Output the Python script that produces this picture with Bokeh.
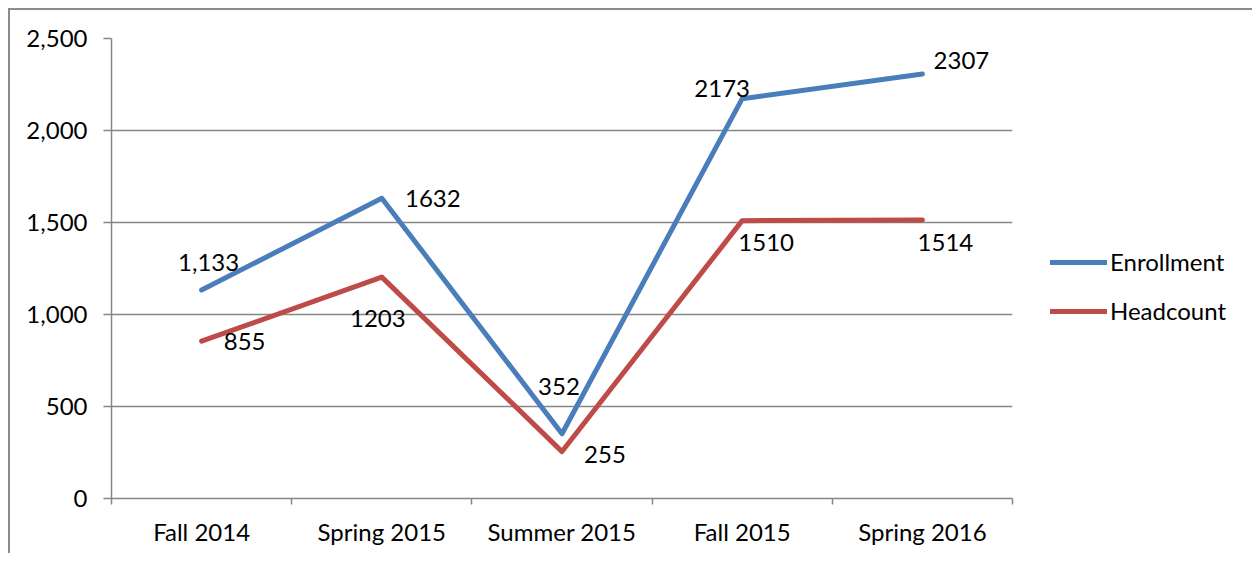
from bokeh.plotting import figure
from bokeh.models import FixedTicker, NumeralTickFormatter, Range1d, Legend, LegendItem, ColumnDataSource
from bokeh.core.properties import value
from bokeh.embed import file_html
from bokeh.resources import INLINE

categories = ["Fall 2014", "Spring 2015", "Summer 2015", "Fall 2015", "Spring 2016"]
enrollment = [1133, 1632, 352, 2173, 2307]
headcount = [855, 1203, 255, 1510, 1514]
enrollment_labels = ["1,133", "1632", "352", "2173", "2307"]
headcount_labels = ["855", "1203", "255", "1510", "1514"]
y_ticks = [0, 500, 1000, 1500, 2000, 2500]

FONT = "Lato"
FS = "24px"
BLUE = "#4A7EBB"
RED = "#BE4B48"
GRID = "#868686"

xs = [i + 0.5 for i in range(len(categories))]

p = figure(frame_width=901, frame_height=460, output_backend="svg", toolbar_location=None,
           x_range=Range1d(0, len(categories)), y_range=Range1d(0, 2500),
           min_border_left=101, min_border_right=0, min_border_top=28, min_border_bottom=55)
p.styles = {"border-left": "2px solid #8c8c8c", "border-top": "2px solid #8c8c8c",
            "margin-left": "8px", "margin-top": "8px"}
p.outline_line_color = None
p.background_fill_color = "white"
p.border_fill_color = "white"

# x axis
p.xaxis.ticker = FixedTicker(ticks=xs, minor_ticks=list(range(len(categories) + 1)))
p.xaxis.major_label_overrides = {x: c for x, c in zip(xs, categories)}
p.xaxis.major_tick_line_color = None
p.xaxis.minor_tick_line_color = GRID
p.xaxis.minor_tick_out = 6
p.xaxis.minor_tick_in = 0
p.xaxis.minor_tick_line_width = 1.5
p.xaxis.axis_line_color = GRID
p.xaxis.axis_line_width = 1.5
p.xaxis.major_label_text_font = FONT
p.xaxis.major_label_text_font_size = FS
p.xaxis.major_label_text_color = "black"
p.xaxis.major_label_standoff = 12

# y axis
p.yaxis.ticker = FixedTicker(ticks=y_ticks)
p.yaxis.formatter = NumeralTickFormatter(format="0,0")
p.yaxis.minor_tick_line_color = None
p.yaxis.major_tick_line_color = GRID
p.yaxis.major_tick_line_width = 1.5
p.yaxis.major_tick_out = 8
p.yaxis.major_tick_in = 0
p.yaxis.axis_line_color = GRID
p.yaxis.axis_line_width = 1.5
p.yaxis.major_label_text_font = FONT
p.yaxis.major_label_text_font_size = FS
p.yaxis.major_label_text_color = "black"
p.yaxis.major_label_standoff = 16

p.xgrid.grid_line_color = None
p.ygrid.ticker = FixedTicker(ticks=y_ticks)
p.ygrid.grid_line_color = GRID
p.ygrid.grid_line_width = 1.5

r1 = p.line(xs, enrollment, line_color=BLUE, line_width=5, line_cap="round", line_join="round")
r2 = p.line(xs, headcount, line_color=RED, line_width=5, line_cap="round", line_join="round")

e_dx = [7, 51, -3, -20, 39]
e_dy = [-28, 0, -47, -10, -14]
h_dx = [43, -4, 43, 24, 23]
h_dy = [0, 41, 3, 22, 23]

src_e = ColumnDataSource(dict(x=xs, y=enrollment, t=enrollment_labels, dx=e_dx, dy=e_dy))
src_h = ColumnDataSource(dict(x=xs, y=headcount, t=headcount_labels, dx=h_dx, dy=h_dy))
for s in (src_e, src_h):
    p.text(x="x", y="y", text="t", x_offset="dx", y_offset="dy", source=s,
           text_align="center", text_baseline="middle",
           text_font=value(FONT), text_font_size=FS, text_color="black")

legend = Legend(items=[LegendItem(label="Enrollment", renderers=[r1]),
                       LegendItem(label="Headcount", renderers=[r2])],
                location=(38, 173), border_line_color=None, background_fill_alpha=0,
                label_text_font=FONT, label_text_font_size=FS, label_text_color="black",
                glyph_width=57, glyph_height=20, spacing=20, padding=0, margin=0,
                label_standoff=3)
p.add_layout(legend, "right")

open("out.html", "w").write(file_html(p, INLINE))
